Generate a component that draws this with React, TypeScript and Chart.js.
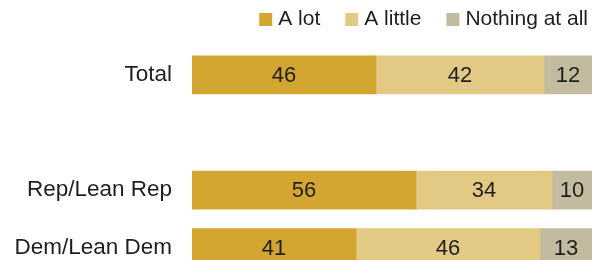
import React, { useEffect, useRef } from "react";
import { Chart, registerables } from "chart.js";

Chart.register(...registerables);

const categories = ["Total", "", "Rep/Lean Rep", "Dem/Lean Dem"];
const seriesNames = ["A lot", "A little", "Nothing at all"];
const aLot = [46, null, 56, 41];
const aLittle = [42, null, 34, 46];
const nothingAtAll = [12, null, 10, 13];
const colors = ["#D2A630", "#E2CA84", "#C3BB9F"];

const FONT = "'Liberation Sans', Arial, sans-serif";

const valueLabels = {
  id: "valueLabels",
  afterDatasetsDraw(chart: any) {
    const ctx = chart.ctx;
    ctx.save();
    ctx.font = `22px ${FONT}`;
    ctx.fillStyle = "#1e1e1e";
    ctx.textAlign = "center";
    ctx.textBaseline = "middle";
    chart.data.datasets.forEach((ds: any, i: number) => {
      const meta = chart.getDatasetMeta(i);
      meta.data.forEach((bar: any, j: number) => {
        const v = ds.data[j];
        if (v == null) return;
        const { x, y, base } = bar.getProps(["x", "y", "base"], true);
        ctx.fillText(String(v), (x + base) / 2, y + 1);
      });
    });
    ctx.restore();
  },
};

const topLegend = {
  id: "topLegend",
  afterDraw(chart: any) {
    const ctx = chart.ctx;
    ctx.save();
    ctx.font = `21px ${FONT}`;
    ctx.textBaseline = "middle";
    const box = 13;
    const gapText = 6;
    const gapItem = 25;
    const widths = seriesNames.map((n) => ctx.measureText(n).width);
    let total = 0;
    widths.forEach((w, i) => {
      total += box + gapText + w + (i < widths.length - 1 ? gapItem : 0);
    });
    let x = chart.width - 4 - total;
    const y = 19;
    seriesNames.forEach((n, i) => {
      ctx.fillStyle = colors[i];
      ctx.fillRect(x, y - 6, box, box);
      ctx.fillStyle = "#1e1e1e";
      ctx.textAlign = "left";
      ctx.fillText(n, x + box + gapText, y);
      x += box + gapText + widths[i] + gapItem;
    });
    ctx.restore();
  },
};

export default function App() {
  const ref = useRef<HTMLCanvasElement | null>(null);
  useEffect(() => {
    document.body.style.margin = "0";
    const chart = new Chart(ref.current as HTMLCanvasElement, {
      type: "bar",
      data: {
        labels: categories,
        datasets: [
          { label: seriesNames[0], data: aLot, backgroundColor: colors[0] },
          { label: seriesNames[1], data: aLittle, backgroundColor: colors[1] },
          { label: seriesNames[2], data: nothingAtAll, backgroundColor: colors[2] },
        ],
      } as any,
      options: {
        indexAxis: "y",
        animation: false,
        responsive: false,
        maintainAspectRatio: false,
        layout: { padding: { top: 46, bottom: 0, left: 0, right: 0 } },
        datasets: { bar: { barThickness: 38, borderWidth: 0 } } as any,
        plugins: {
          legend: { display: false },
          tooltip: { enabled: false },
        },
        scales: {
          x: { stacked: true, min: 0, max: 100, display: false },
          y: {
            stacked: true,
            grid: { display: false, drawTicks: false },
            border: { display: false },
            ticks: {
              color: "#1e1e1e",
              padding: 20,
              font: { family: FONT, size: 22.5 },
            },
            afterFit: (scale: any) => {
              scale.width = 192;
            },
          },
        },
      },
      plugins: [valueLabels, topLegend],
    });
    return () => chart.destroy();
  }, []);
  return (
    <div
      style={{
        position: "fixed",
        left: 0,
        top: 0,
        width: 592,
        height: 260,
        overflow: "hidden",
        background: "#fff",
      }}
    >
      <canvas
        ref={ref}
        width={592}
        height={310}
        style={{ display: "block", width: 592, height: 310 }}
      />
    </div>
  );
}
